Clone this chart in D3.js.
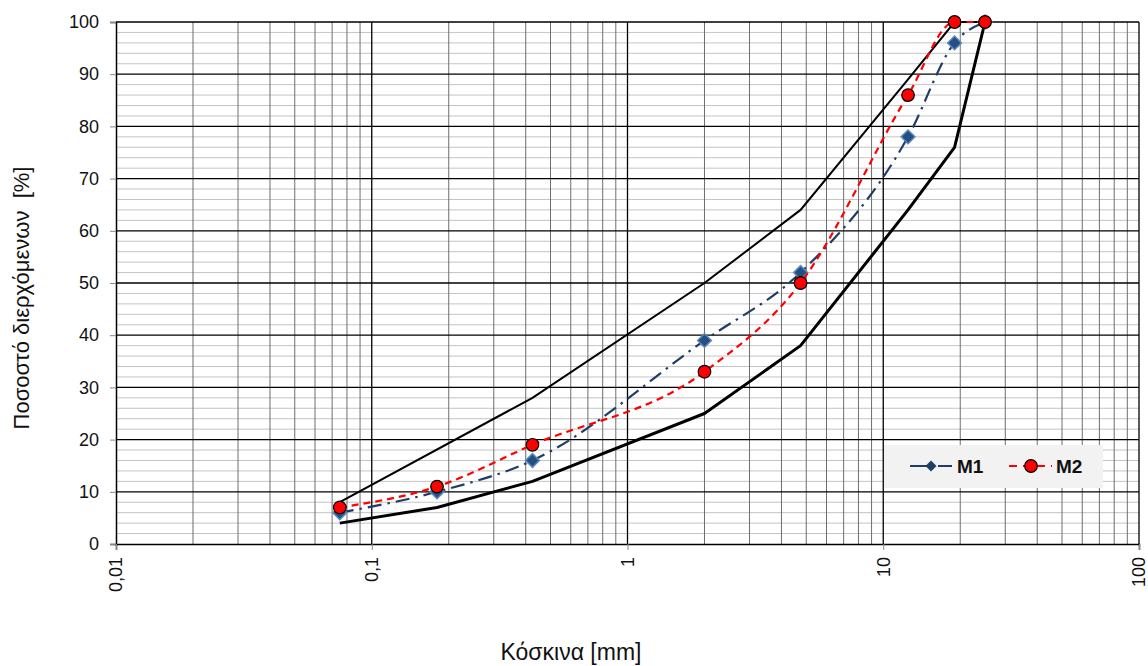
<!DOCTYPE html>
<html>
<head>
<meta charset="utf-8">
<script src="https://cdn.jsdelivr.net/npm/d3@7"></script>
<style>
  body { margin: 0; background: #fff; }
  svg { font-family: Arial, "Liberation Sans", sans-serif; }
</style>
</head>
<body>
<div id="chart"></div>
<script>
// sieve sizes (mm) and passing percentages
var sieves = [0.075, 0.18, 0.425, 2, 4.75, 12.5, 19, 25];
var upperLimit = [8, null, 28, 50, 64, 89, 100, 100];
var lowerLimit = [4, 7, 12, 25, 38, 64, 76, 100];
var m1 = [6, 10, 16, 39, 52, 78, 96, 100];
var m2 = [7, 11, 19, 33, 50, 86, 100, 100];
var seriesNames = ["M1", "M2"];
var xTickValues = [0.01, 0.1, 1, 10, 100];
var xTickLabels = ["0,01", "0,1", "1", "10", "100"];
var yTickValues = d3.range(0, 101, 10);

var width = 1148, height = 666;

var x = d3.scaleLog().domain([0.01, 100]).range([116, 1139]);
var y = d3.scaleLinear().domain([0, 100]).range([544, 22]);

var svg = d3.select("#chart").append("svg")
    .attr("width", width)
    .attr("height", height);

// minor horizontal grid (every 2%)
svg.append("g").selectAll("line")
    .data(d3.range(2, 100, 2).filter(function (d) { return d % 10 !== 0; }))
    .enter().append("line")
    .attr("x1", x(0.01)).attr("x2", x(100))
    .attr("y1", function (d) { return y(d); })
    .attr("y2", function (d) { return y(d); })
    .attr("stroke", "#c4c4c4").attr("stroke-width", 1);

// minor vertical grid (2..9 in each decade)
var minorX = [];
[0.01, 0.1, 1, 10].forEach(function (dec) {
    for (var k = 2; k <= 9; k++) minorX.push(dec * k);
});
svg.append("g").selectAll("line")
    .data(minorX)
    .enter().append("line")
    .attr("x1", function (d) { return x(d); })
    .attr("x2", function (d) { return x(d); })
    .attr("y1", y(0)).attr("y2", y(100))
    .attr("stroke", "#6e6e6e").attr("stroke-width", 1);

// major grid
svg.append("g").selectAll("line")
    .data(yTickValues.slice(1))
    .enter().append("line")
    .attr("x1", x(0.01)).attr("x2", x(100))
    .attr("y1", function (d) { return y(d); })
    .attr("y2", function (d) { return y(d); })
    .attr("stroke", "#000").attr("stroke-width", 1.3);

svg.append("g").selectAll("line")
    .data(xTickValues.slice(1))
    .enter().append("line")
    .attr("x1", function (d) { return x(d); })
    .attr("x2", function (d) { return x(d); })
    .attr("y1", y(0)).attr("y2", y(100))
    .attr("stroke", "#000").attr("stroke-width", 1.3);

// axes
var yAxis = svg.append("g")
    .attr("transform", "translate(" + x(0.01) + ",0)")
    .call(d3.axisLeft(y).tickValues(yTickValues).tickSize(6).tickPadding(11));
yAxis.select(".domain").attr("stroke", "#000").attr("stroke-width", 1.5);
yAxis.selectAll(".tick line").attr("stroke", "#888");
yAxis.selectAll("text").attr("font-size", 18).attr("fill", "#111")
    .attr("font-family", "Arial, 'Liberation Sans', sans-serif");

var xAxis = svg.append("g")
    .attr("transform", "translate(0," + y(0) + ")")
    .call(d3.axisBottom(x).tickValues(xTickValues)
        .tickFormat(function (d, i) { return xTickLabels[i]; })
        .tickSize(6));
xAxis.select(".domain").attr("stroke", "#000").attr("stroke-width", 1.5);
xAxis.selectAll(".tick line").attr("stroke", "#888");
xAxis.selectAll("text")
    .attr("font-size", 18).attr("fill", "#111")
    .attr("font-family", "Arial, 'Liberation Sans', sans-serif")
    .attr("transform", "rotate(-90)")
    .attr("text-anchor", "end")
    .attr("x", -13).attr("y", 0).attr("dy", "0.33em");

// axis titles
svg.append("text")
    .attr("x", 571).attr("y", 660)
    .attr("text-anchor", "middle")
    .attr("font-size", 23).attr("fill", "#111")
    .text("Κόσκινα [mm]");

svg.append("text")
    .attr("transform", "translate(29,298) rotate(-90)")
    .attr("text-anchor", "middle")
    .attr("font-size", 22).attr("fill", "#111")
    .attr("xml:space", "preserve")
    .text("Ποσοστό διερχόμενων  [%]");

function pts(vals) {
    return sieves.map(function (s, i) { return [s, vals[i]]; })
        .filter(function (p) { return p[1] !== null; });
}

var straight = d3.line()
    .x(function (d) { return x(d[0]); })
    .y(function (d) { return y(d[1]); });

var smooth = d3.line()
    .curve(d3.curveMonotoneX)
    .x(function (d) { return x(d[0]); })
    .y(function (d) { return y(d[1]); });

// grading envelope
svg.append("path").attr("d", straight(pts(upperLimit)))
    .attr("fill", "none").attr("stroke", "#000").attr("stroke-width", 2);
svg.append("path").attr("d", straight(pts(lowerLimit)))
    .attr("fill", "none").attr("stroke", "#000").attr("stroke-width", 3)
    .attr("stroke-linejoin", "round");

// M1
var m1Color = "#1f3d66";
svg.append("path").attr("d", smooth(pts(m1)))
    .attr("fill", "none").attr("stroke", m1Color).attr("stroke-width", 2.2)
    .attr("stroke-dasharray", "14,6,2.5,6");

svg.append("g").selectAll("path")
    .data(pts(m1))
    .enter().append("path")
    .attr("d", d3.symbol().type(d3.symbolSquare).size(95))
    .attr("transform", function (d) { return "translate(" + x(d[0]) + "," + y(d[1]) + ") rotate(45)"; })
    .attr("fill", "#234f83").attr("stroke", "#5b87bd").attr("stroke-width", 1.5);

// M2
svg.append("path").attr("d", smooth(pts(m2)))
    .attr("fill", "none").attr("stroke", "#ff0000").attr("stroke-width", 2.2)
    .attr("stroke-dasharray", "7,5");

svg.append("g").selectAll("circle")
    .data(pts(m2))
    .enter().append("circle")
    .attr("cx", function (d) { return x(d[0]); })
    .attr("cy", function (d) { return y(d[1]); })
    .attr("r", 6.3)
    .attr("fill", "#ff0000").attr("stroke", "#000").attr("stroke-width", 1.2);

// legend
var legend = svg.append("g");
legend.append("rect")
    .attr("x", 884).attr("y", 445).attr("width", 219).attr("height", 43)
    .attr("fill", "#f2f2f2");

var ly = 466;
legend.append("line").attr("x1", 910).attr("x2", 952).attr("y1", ly).attr("y2", ly)
    .attr("stroke", m1Color).attr("stroke-width", 2.2).attr("stroke-dasharray", "22,6,6,0");
legend.append("path")
    .attr("d", d3.symbol().type(d3.symbolSquare).size(60))
    .attr("transform", "translate(931," + ly + ") rotate(45)")
    .attr("fill", "#1f3d66");
legend.append("text").attr("x", 957).attr("y", ly + 7)
    .attr("font-size", 19).attr("font-weight", "bold").attr("fill", "#111")
    .text(seriesNames[0]);

legend.append("line").attr("x1", 1009).attr("x2", 1052).attr("y1", ly).attr("y2", ly)
    .attr("stroke", "#ff0000").attr("stroke-width", 2.2).attr("stroke-dasharray", "8,6");
legend.append("circle").attr("cx", 1031).attr("cy", ly).attr("r", 6.3)
    .attr("fill", "#ff0000").attr("stroke", "#000").attr("stroke-width", 1.2);
legend.append("text").attr("x", 1056).attr("y", ly + 7)
    .attr("font-size", 19).attr("font-weight", "bold").attr("fill", "#111")
    .text(seriesNames[1]);
</script>
</body>
</html>
